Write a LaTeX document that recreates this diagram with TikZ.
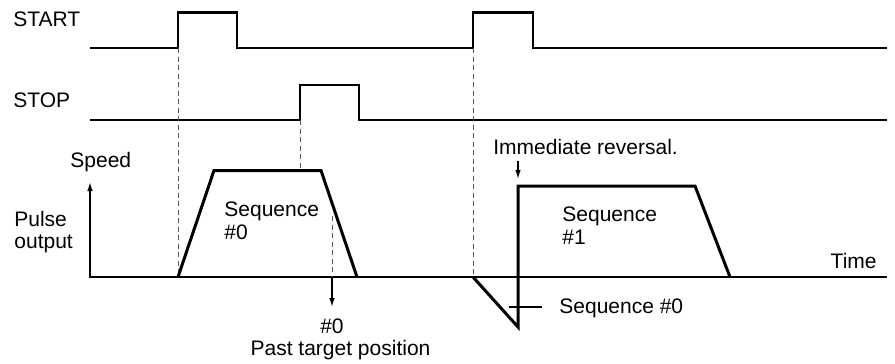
\documentclass[tikz,border=0pt]{standalone}
\usepackage{fontspec}
\setmainfont{Liberation Sans}
\usetikzlibrary{arrows.meta}

\begin{document}
\begin{tikzpicture}[x=0.5pt,y=-0.5pt,>={Latex[length=4.5pt,width=2.8pt]},
    font=\fontsize{10.5}{11.35}\selectfont,
    signal/.style={line width=1.2pt},
    profile/.style={line width=1.5pt,line join=miter},
    axis/.style={line width=0.7pt},
    guide/.style={line width=0.45pt,black!65,dash pattern=on 2.5pt off 1.75pt},
    lbl/.style={inner sep=0pt,anchor=west,align=left}]
  \useasboundingbox (0,0) rectangle (895,364);
  % START and STOP signals
  \draw[signal] (90,48) -| (178,12.5) -| (237,48) -| (473,12.5) -| (533,48) -- (887,48);
  \draw[signal] (90,120) -| (300,85) -| (359,120) -- (887,120);
  \node[lbl] (start) at (13,19) {START};
  \node[lbl] (stop) at (13,100) {STOP};
  % speed axes
  \draw[axis,<-] (90,182) -- (90,277) -- (887,277);
  \node[lbl] (speed) at (70,162.5) {Speed};
  \node[lbl] (pulse) at (14,232) {Pulse\\output};
  \node[lbl,anchor=east] (time) at (877,260.7) {Time};
  % guide lines
  \draw[guide] (178,48) -- (178,277);
  \draw[guide] (300,120) -- (300,170.5);
  \draw[guide] (332,216) -- (332,277);
  \draw[guide] (473,48) -- (473,277);
  % speed profiles
  \draw[profile] (178,277) -- (214,170.5) -- (321,170.5) -- (357,277);
  \draw[profile] (473,277) -- (518,327) -- (518,186) -- (695,186) -- (730,277);
  \node[lbl] (seqa) at (224,220.5) {Sequence\\\#0};
  \node[lbl] (seqb) at (562,225.5) {Sequence\\\#1};
  \node[lbl] (seqc) at (559,308.5) {Sequence \#0};
  \node[lbl] (rev) at (493,146.7) {Immediate reversal.};
  \node[inner sep=0pt] (past) at (332,326.7) {\#0};
  \node[inner sep=0pt] (pastlbl) at (340.5,350) {Past target position};
  \coordinate (pastfoot) at (332,277);
  \coordinate (revtip) at (518,179);
  \coordinate (seqcfoot) at (509,307);
  \draw[axis,->] (pastfoot) -- (332,307);
  \draw[axis,->] (518,161) -- (revtip);
  \draw[axis] (seqcfoot) -- (542,307);
\end{tikzpicture}
\end{document}
